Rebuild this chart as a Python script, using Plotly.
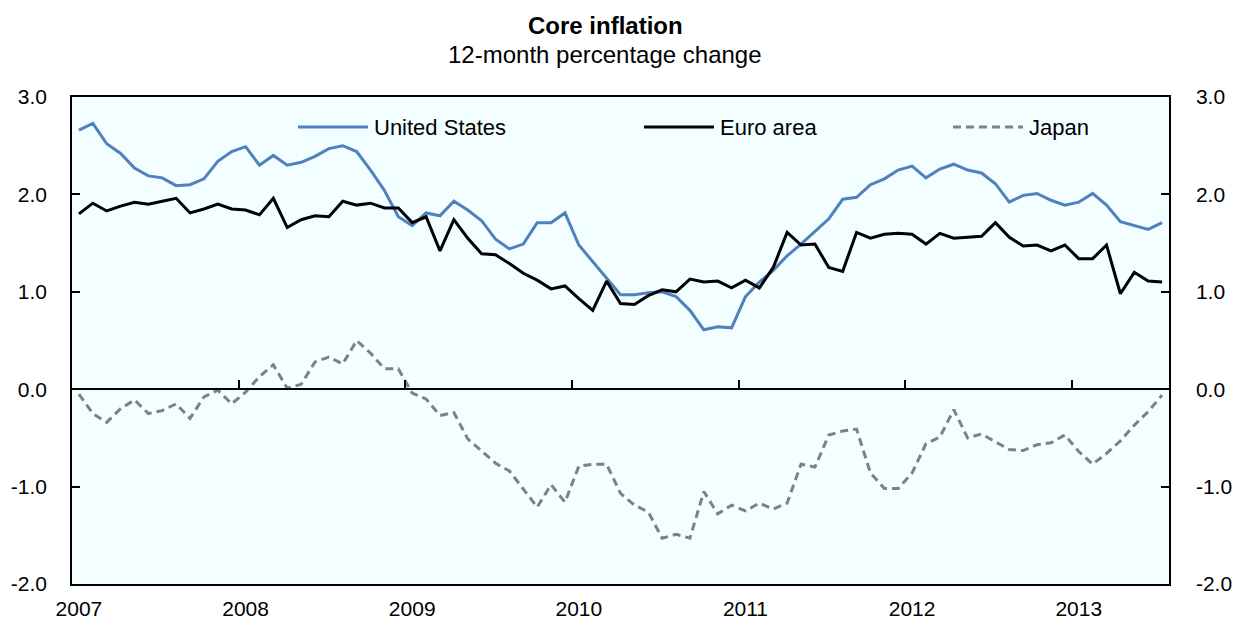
import plotly.graph_objects as go

# ---- data (monthly, Jan 2007 - Jul 2013) ----
years = ["2007", "2008", "2009", "2010", "2011", "2012", "2013"]
series_names = ["United States", "Euro area", "Japan"]
y_ticks = [-2.0, -1.0, 0.0, 1.0, 2.0, 3.0]
y_tick_labels = ["-2.0", "-1.0", "0.0", "1.0", "2.0", "3.0"]

us = [2.66, 2.73, 2.52, 2.42, 2.27, 2.19, 2.17, 2.09, 2.10, 2.16, 2.34, 2.44,
      2.49, 2.30, 2.40, 2.30, 2.33, 2.39, 2.47, 2.50, 2.44, 2.25, 2.04, 1.77,
      1.68, 1.81, 1.78, 1.93, 1.84, 1.73, 1.54, 1.44, 1.49, 1.71, 1.71, 1.81,
      1.48, 1.31, 1.14, 0.97, 0.97, 0.99, 1.00, 0.95, 0.81, 0.61, 0.64, 0.63,
      0.95, 1.10, 1.22, 1.37, 1.49, 1.62, 1.75, 1.95, 1.97, 2.10, 2.16, 2.25,
      2.29, 2.17, 2.26, 2.31, 2.25, 2.22, 2.11, 1.92, 1.99, 2.01, 1.94, 1.89,
      1.92, 2.01, 1.89, 1.72, 1.68, 1.64, 1.71]

euro = [1.80, 1.91, 1.83, 1.88, 1.92, 1.90, 1.93, 1.96, 1.81, 1.85, 1.90, 1.85,
        1.84, 1.79, 1.96, 1.66, 1.74, 1.78, 1.77, 1.93, 1.89, 1.91, 1.86, 1.86,
        1.71, 1.77, 1.42, 1.74, 1.55, 1.39, 1.38, 1.29, 1.19, 1.12, 1.03, 1.06,
        0.93, 0.81, 1.11, 0.88, 0.87, 0.96, 1.02, 1.00, 1.13, 1.10, 1.11, 1.04,
        1.12, 1.04, 1.25, 1.61, 1.48, 1.49, 1.25, 1.21, 1.61, 1.55, 1.59, 1.60,
        1.59, 1.49, 1.60, 1.55, 1.56, 1.57, 1.71, 1.56, 1.47, 1.48, 1.42, 1.48,
        1.34, 1.34, 1.48, 0.98, 1.20, 1.11, 1.10]

japan = [-0.05, -0.25, -0.34, -0.20, -0.11, -0.25, -0.22, -0.15, -0.30, -0.08, -0.01, -0.15,
         -0.03, 0.13, 0.25, 0.01, 0.05, 0.28, 0.33, 0.26, 0.50, 0.37, 0.21, 0.21,
         -0.04, -0.10, -0.27, -0.24, -0.51, -0.63, -0.76, -0.84, -1.02, -1.21, -0.98, -1.16,
         -0.79, -0.77, -0.77, -1.07, -1.19, -1.26, -1.53, -1.49, -1.53, -1.05, -1.28, -1.19,
         -1.25, -1.17, -1.23, -1.17, -0.77, -0.80, -0.47, -0.43, -0.41, -0.86, -1.02, -1.02,
         -0.86, -0.56, -0.49, -0.21, -0.50, -0.46, -0.54, -0.62, -0.63, -0.57, -0.55, -0.47,
         -0.64, -0.77, -0.66, -0.53, -0.37, -0.23, -0.06]

y_min, y_max = -2.0, 3.0

# ---- styling ----
FONT = "Arial, Liberation Sans, sans-serif"
colors = ["#4F81BD", "#000000", "#808080"]
dashes = ["solid", "solid", "8px,5px"]
bg = "#F2FEFF"

W, H = 1235, 620
ML, MR, MT, MB = 72, 66, 97, 36
PW, PH = W - ML - MR, H - MT - MB

n = len(us)
x = list(range(n))
x_range = [-0.5, n - 0.5]
year_pos = [12 * i for i in range(len(years))]
boundaries = [12 * i - 0.5 for i in range(1, len(years))]

fig = go.Figure()
for name, vals, c, d in zip(series_names, [us, euro, japan], colors, dashes):
    fig.add_trace(go.Scatter(x=x, y=vals, name=name, mode="lines",
                             line=dict(color=c, width=3, dash=d),
                             showlegend=False))

# helper traces so that the overlay axes are drawn
fig.add_trace(go.Scatter(x=[None], y=[None], xaxis="x2", showlegend=False, hoverinfo="skip"))
fig.add_trace(go.Scatter(x=[None], y=[None], yaxis="y2", showlegend=False, hoverinfo="skip"))

zero_pos = (0 - y_min) / (y_max - y_min)

fig.update_layout(
    template="none",
    width=W, height=H,
    margin=dict(l=ML, r=MR, t=MT, b=MB, autoexpand=False),
    paper_bgcolor="white",
    plot_bgcolor=bg,
    font=dict(family=FONT, size=21, color="black"),
    xaxis=dict(range=x_range, tickvals=year_pos, ticktext=years, ticks="",
               showgrid=False, zeroline=False, showline=True, mirror=True,
               linecolor="black", linewidth=1.5, ticklabelstandoff=5,
               automargin=False, tickfont=dict(size=21)),
    xaxis2=dict(overlaying="x", range=x_range, anchor="free", position=zero_pos,
                side="bottom", tickvals=boundaries, showticklabels=False,
                ticks="inside", ticklen=8, tickwidth=1.5, tickcolor="black",
                showline=True, linecolor="black", linewidth=2, automargin=False,
                showgrid=True, gridcolor="white", gridwidth=1, zeroline=False),
    yaxis=dict(range=[y_min, y_max], tickvals=y_ticks, ticktext=y_tick_labels,
               ticks="inside", ticklen=8, tickwidth=1.5, tickcolor="black",
               showline=True, linecolor="black", linewidth=1.5, automargin=False,
               showgrid=True, gridcolor="white", gridwidth=1, zeroline=False,
               ticklabelstandoff=19, tickfont=dict(size=21)),
    yaxis2=dict(overlaying="y", side="right", range=[y_min, y_max],
                tickvals=y_ticks, ticktext=y_tick_labels,
                ticks="inside", ticklen=8, tickwidth=1.5, automargin=False,
                tickcolor="black", showline=True, linecolor="black", linewidth=1.5,
                showgrid=False, zeroline=False, ticklabelstandoff=21,
                tickfont=dict(size=21)),
)

def px_x(p):
    return (p - ML) / PW

def px_y(p):
    return (H - MB - p) / PH

# title / subtitle
fig.add_annotation(text="<b>Core inflation</b>", xref="paper", yref="paper",
                   x=px_x(605), y=px_y(25), showarrow=False,
                   xanchor="center", yanchor="middle", font=dict(size=24))
fig.add_annotation(text="12-month percentage change", xref="paper", yref="paper",
                   x=px_x(605), y=px_y(55), showarrow=False,
                   xanchor="center", yanchor="middle", font=dict(size=24))

# custom legend (line samples + labels)
legend_x = [298, 644, 953]
legend_y = 127
for name, c, d, lx in zip(series_names, colors, dashes, legend_x):
    yy = px_y(legend_y)
    fig.add_shape(type="line", xref="paper", yref="paper",
                  x0=px_x(lx), x1=px_x(lx + 70), y0=yy, y1=yy,
                  line=dict(color=c, width=3, dash=d))
    fig.add_annotation(text=name, xref="paper", yref="paper", x=px_x(lx + 74), y=yy,
                       showarrow=False, xanchor="left", yanchor="middle",
                       font=dict(size=22))

fig.write_html("out.html", config={"displayModeBar": False},
               post_script="document.body.style.margin='0';document.body.style.overflow='hidden';")
